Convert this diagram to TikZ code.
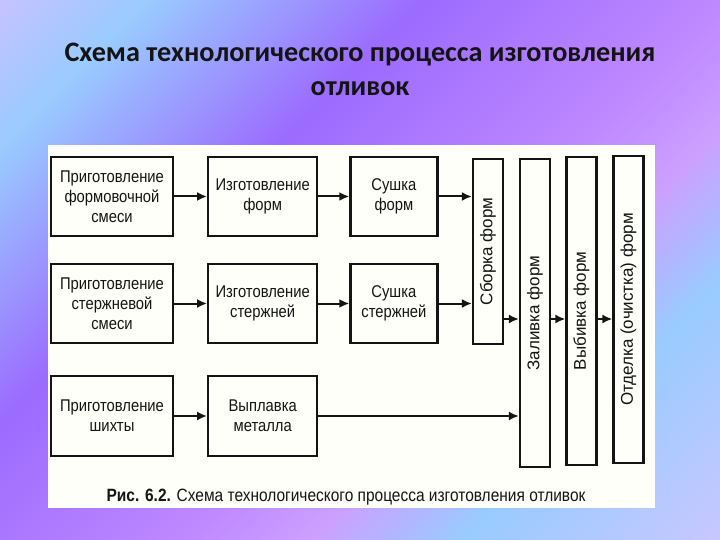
\documentclass[tikz,border=0pt]{standalone}
\usepackage{fontspec}
\setmainfont{Liberation Sans}
\newfontfamily\titlefont{Carlito}
\newfontfamily\scanfont[FakeStretch=0.87]{Liberation Sans}
\usepackage{graphicx}
\usetikzlibrary{arrows.meta,positioning}

\definecolor{bgLav}{HTML}{C6C2FF}
\definecolor{bgBlue}{HTML}{99CBFF}
\definecolor{bgViol}{HTML}{9C6BFF}
\definecolor{bgPink}{HTML}{BE88FF}
\definecolor{bgRose}{HTML}{CCA0FF}
\definecolor{bgLavB}{HTML}{C8C8FF}
\definecolor{panel}{HTML}{FFFFFA}
\definecolor{ink}{HTML}{141414}

\begin{document}
\begin{tikzpicture}[x=1pt, y=-1pt,
    block/.style={draw=ink, rectangle, line width=2.2pt, minimum height=79pt,
                  align=center, inner sep=0pt, text=ink,
                  font=\scanfont\fontsize{17}{20}\selectfont},
    bar/.style={draw=ink, rectangle, line width=2.2pt, minimum width=30pt,
                inner sep=0pt, text=ink, font=\fontsize{17}{20}\selectfont},
    arrow/.style={-{Latex[length=10pt,width=9pt]}, line width=2pt, draw=ink},
    node distance=33pt
]
\useasboundingbox (0,0) rectangle (720,540);

% slide background
\begin{scope}
  \clip (0,0) rectangle (720,540);
  \begin{scope}[transform canvas={rotate=-45}]
    \foreach \ua/\ub/\ca/\cb in {0/106/bgLav/bgBlue, 106/297/bgBlue/bgViol,
        297/509/bgViol/bgPink, 509/601/bgPink/bgRose, 601/707/bgRose/bgBlue,
        707/891/bgBlue/bgLavB}
      \shade[left color=\ca, right color=\cb] (\ua,-700) rectangle (\ub+0.6,700);
  \end{scope}
\end{scope}

% title
\node[font=\titlefont\bfseries\fontsize{28.2}{34}\selectfont, align=center,
      text=ink] (title) at (360,69)
  {Схема технологического процесса изготовления\\отливок};

% scanned figure
\fill[panel] (48,145) rectangle (655,508);

% first column
\node[block, minimum width=122pt] (p11) at (112,196.5)
  {Приготовление\\формовочной\\смеси};
\node[block, minimum width=122pt] (p21) at (112,303.5)
  {Приготовление\\стержневой\\смеси};
\node[block, minimum width=122pt, minimum height=80pt] (p31) at (112,416)
  {Приготовление\\шихты};

% second column
\node[block, minimum width=109pt, right=of p11] (p12) {Изготовление\\форм};
\node[block, minimum width=109pt, right=of p21] (p22) {Изготовление\\стержней};
\node[block, minimum width=109pt, minimum height=80pt, right=of p31] (p32)
  {Выплавка\\металла};

% third column
\node[block, minimum width=87pt, right=31pt of p12] (p13) {Сушка\\форм};
\node[block, minimum width=87pt, right=31pt of p22] (p23) {Сушка\\стержней};

% vertical stages
\node[bar, minimum height=185pt] (sb) at (488,251.5)
  {\rotatebox{90}{Сборка форм}};
\node[bar, minimum height=308pt] (zl) at (535,313)
  {\rotatebox{90}{Заливка форм}};
\node[bar, minimum height=308pt] (vb) at (581.5,311)
  {\rotatebox{90}{Выбивка форм}};
\node[bar, minimum height=307pt] (ot) at (628.5,309.5)
  {\rotatebox{90}{Отделка (очистка) форм}};

\coordinate (lvl) at (0,319);

\draw[arrow] (p11) -- (p12);
\draw[arrow] (p12) -- (p13);
\draw[arrow] (p13) -- (p13 -| sb.west);
\draw[arrow] (p21) -- (p22);
\draw[arrow] (p22) -- (p23);
\draw[arrow] (p23) -- (p23 -| sb.west);
\draw[arrow] (p31) -- (p32);
\draw[arrow] (p32) -- (p32 -| zl.west);
\draw[arrow] (sb.east |- lvl) -- (zl.west |- lvl);
\draw[arrow] (zl.east |- lvl) -- (vb.west |- lvl);
\draw[arrow] (vb.east |- lvl) -- (ot.west |- lvl);

% caption
\node[font=\scanfont\fontsize{17.8}{20}\selectfont, text=ink] (cap) at (346,497)
  {\textbf{Рис. 6.2.} Схема технологического процесса изготовления отливок};

\end{tikzpicture}
\end{document}
